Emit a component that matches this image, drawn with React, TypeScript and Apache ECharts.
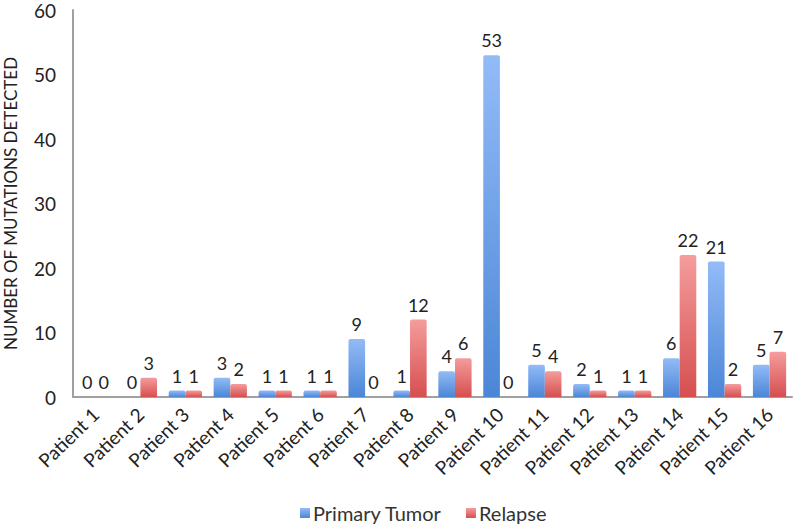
import React, { useEffect, useRef } from "react";
import * as echarts from "echarts";

const categories = [
  "Patient 1", "Patient 2", "Patient 3", "Patient 4", "Patient 5", "Patient 6",
  "Patient 7", "Patient 8", "Patient 9", "Patient 10", "Patient 11", "Patient 12",
  "Patient 13", "Patient 14", "Patient 15", "Patient 16",
];
const primaryTumor = [0, 0, 1, 3, 1, 1, 9, 1, 4, 53, 5, 2, 1, 6, 21, 5];
const relapse = [0, 3, 1, 2, 1, 1, 0, 12, 6, 0, 4, 1, 1, 22, 2, 7];

const FONT = "Lato, 'Open Sans', sans-serif";

export default function App() {
  const ref = useRef<HTMLDivElement>(null);
  useEffect(() => {
    const chart = echarts.init(ref.current!, null, { renderer: "svg" });
    const label = {
      show: true,
      position: "top" as const,
      fontSize: 18,
      color: "#222",
      fontFamily: FONT,
      distance: 6,
    };
    chart.setOption({
      animation: false,
      textStyle: { fontFamily: FONT },
      grid: {
        left: 73,
        right: 8,
        top: 10,
        bottom: 134,
        containLabel: false,
        outerBoundsMode: "none",
      },
      legend: {
        bottom: 3,
        left: 295,
        itemWidth: 10,
        itemHeight: 10,
        icon: "rect",
        itemGap: 24,
        textStyle: { fontSize: 20, color: "#333", fontFamily: FONT, padding: [0, 0, 0, -2] },
        data: ["Primary Tumor", "Relapse"],
      },
      xAxis: {
        type: "category",
        data: categories,
        axisLine: { lineStyle: { color: "#a0a0a0", width: 2 } },
        axisTick: { show: false },
        axisLabel: {
          rotate: 44,
          fontSize: 19,
          color: "#222",
          fontFamily: FONT,
          interval: 0,
          margin: 14,
        },
      },
      yAxis: {
        type: "value",
        min: 0,
        max: 60,
        interval: 10,
        name: "NUMBER OF MUTATIONS DETECTED",
        nameLocation: "middle",
        nameGap: 54,
        nameTextStyle: { fontSize: 17, color: "#222", fontFamily: FONT },
        axisLine: { show: true, lineStyle: { color: "#a0a0a0", width: 2 } },
        axisTick: { show: false },
        splitLine: { show: false },
        axisLabel: { fontSize: 19, color: "#222", fontFamily: FONT, margin: 17 },
      },
      series: [
        {
          name: "Primary Tumor",
          type: "bar",
          data: primaryTumor,
          barGap: "0%",
          barCategoryGap: "26%",
          label,
          itemStyle: {
            color: new echarts.graphic.LinearGradient(0, 0, 0, 1, [
              { offset: 0, color: "#93bbf7" },
              { offset: 1, color: "#4b86d6" },
            ]),
            borderRadius: [2, 2, 0, 0],
          },
        },
        {
          name: "Relapse",
          type: "bar",
          data: relapse,
          label,
          itemStyle: {
            color: new echarts.graphic.LinearGradient(0, 0, 0, 1, [
              { offset: 0, color: "#f59c9c" },
              { offset: 1, color: "#d64f4f" },
            ]),
            borderRadius: [2, 2, 0, 0],
          },
        },
      ],
    });
    return () => chart.dispose();
  }, []);
  return (
    <div
      ref={ref}
      style={{ position: "absolute", left: 0, top: 0, width: 800, height: 531 }}
    />
  );
}
